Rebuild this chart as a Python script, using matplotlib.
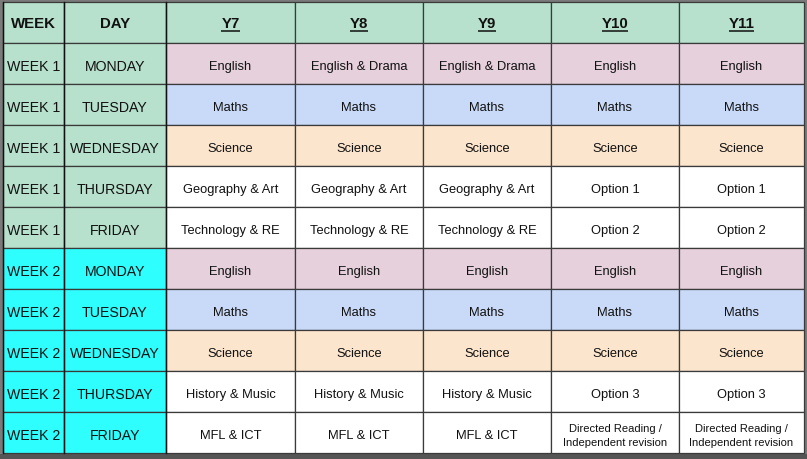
import matplotlib
matplotlib.use("Agg")
import matplotlib.pyplot as plt
from matplotlib.patches import Rectangle

plt.rcParams['font.family'] = ['Liberation Sans', 'DejaVu Sans']

headers = ["WEEK", "DAY", "Y7", "Y8", "Y9", "Y10", "Y11"]
weeks = ["WEEK 1"] * 5 + ["WEEK 2"] * 5
days = ["MONDAY", "TUESDAY", "WEDNESDAY", "THURSDAY", "FRIDAY"] * 2
y7 = ["English", "Maths", "Science", "Geography & Art", "Technology & RE",
      "English", "Maths", "Science", "History & Music", "MFL & ICT"]
y8 = ["English & Drama", "Maths", "Science", "Geography & Art", "Technology & RE",
      "English", "Maths", "Science", "History & Music", "MFL & ICT"]
y9 = ["English & Drama", "Maths", "Science", "Geography & Art", "Technology & RE",
      "English", "Maths", "Science", "History & Music", "MFL & ICT"]
y10 = ["English", "Maths", "Science", "Option 1", "Option 2",
       "English", "Maths", "Science", "Option 3", "Directed Reading /\nIndependent revision"]
y11 = ["English", "Maths", "Science", "Option 1", "Option 2",
       "English", "Maths", "Science", "Option 3", "Directed Reading /\nIndependent revision"]

subject_colors = {"English": "#e6d0dc", "English & Drama": "#e6d0dc",
                  "Maths": "#c9daf8", "Science": "#fce5cd"}
week_colors = {"WEEK 1": "#b7e1cd", "WEEK 2": "#2efefe"}
header_color = "#b7e1cd"

# layout (pixels)
W, H = 807, 460
col_edges = [3, 64, 166, 295, 423, 551, 679, 804]
row_top = 3
row_h = 41

fig = plt.figure(figsize=(W / 100, H / 100), dpi=100)
fig.patch.set_facecolor("#7a7a7a")
ax = fig.add_axes([0, 0, 1, 1])
ax.set_xlim(0, W)
ax.set_ylim(H, 0)
ax.axis("off")

# bottom darker strip
ax.add_patch(Rectangle((0, 455), W, 5, facecolor="#555555", edgecolor="none"))

line_c = "#3a3a3a"

def cell(ci, ri, text, fc, size, bold=False, underline=False):
    x0 = col_edges[ci]
    x1 = col_edges[ci + 1]
    y0 = row_top + ri * row_h
    ax.add_patch(Rectangle((x0, y0), x1 - x0, row_h, facecolor=fc,
                           edgecolor=line_c, linewidth=0.9))
    fs = size
    ls = 1.05
    if "\n" in text:
        fs = 8.0
        ls = 1.45
    dy = 1.0 if ri == 0 else 2.5
    t = ax.text((x0 + x1) / 2, y0 + row_h / 2 + dy, text, ha="center", va="center",
                fontsize=fs, fontweight="bold" if bold else "normal",
                color="#111111", linespacing=ls)
    if underline:
        fig.canvas.draw()
        bb = t.get_window_extent()
        ux0, ux1 = bb.x0, bb.x1
        uy = H - bb.y0
        ax.plot([ux0, ux1], [uy, uy], color="#111111", lw=1.1,
                solid_capstyle="butt")

for ci, h in enumerate(headers):
    cell(ci, 0, h, header_color, 10.8, bold=True, underline=(ci >= 2))

cols = [y7, y8, y9, y10, y11]
for ri in range(len(weeks)):
    wc = week_colors[weeks[ri]]
    cell(0, ri + 1, weeks[ri], wc, 10.2)
    cell(1, ri + 1, days[ri], wc, 10.2)
    for k, col in enumerate(cols):
        v = col[ri]
        cell(k + 2, ri + 1, v, subject_colors.get(v, "#ffffff"), 9.3)

# darker vertical lines around week/day columns
for x in col_edges[:3]:
    ax.plot([x, x], [row_top, row_top + 11 * row_h], color="#111111", lw=1.0)

fig.savefig("out.png", dpi=100, facecolor=fig.get_facecolor())
